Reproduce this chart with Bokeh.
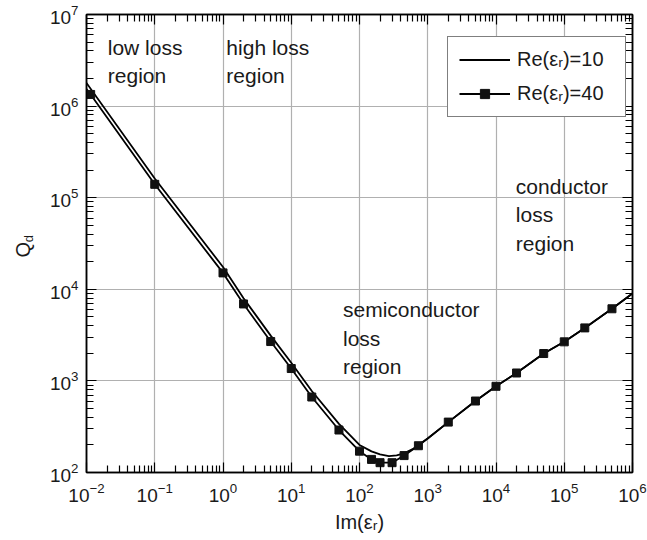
import math
from bokeh.plotting import figure
from bokeh.layouts import row
from bokeh.models import (FixedTicker, LogAxis, Label, Legend, LegendItem,
                          CustomJSTickFormatter)
from bokeh.core.properties import value
from bokeh.embed import file_html
from bokeh.resources import INLINE

FONT = "Liberation Sans"

# ---- data ----
# Re(eps_r)=10 : plain line
im_re10 = [0.01, 0.1, 1, 2, 5, 10, 20, 50, 100, 150, 200, 270, 350, 450, 600,
           800, 1000, 2000, 5000, 1e4, 2e4, 5e4, 1e5, 2e5, 5e5, 1e6]
q_re10 = [1.79e6, 1.62e5, 1.75e4, 8000, 3120, 1580, 775, 340, 200, 170, 158, 151,
          154, 162, 180, 210, 235, 355, 603, 873, 1220, 1990, 2670, 3790, 6130, 9000]

# Re(eps_r)=40 : line with square markers
im_re40 = [0.0115, 0.1, 1, 2, 5, 10, 20, 50, 100, 150, 200, 300, 450, 730,
           2000, 5000, 1e4, 2e4, 5e4, 1e5, 2e5, 5e5]
q_re40 = [1.34e6, 1.4e5, 1.51e4, 6920, 2690, 1365, 667, 291, 171, 139, 128, 128,
          153, 196, 355, 603, 873, 1220, 1990, 2670, 3790, 6130]
# line end points (no markers there)
im_re40_start, q_re40_start = 0.01, 1.54e6
im_re40_end, q_re40_end = 1e6, 9000

x_major = [1e-2, 1e-1, 1e0, 1e1, 1e2, 1e3, 1e4, 1e5, 1e6]
y_major = [1e2, 1e3, 1e4, 1e5, 1e6, 1e7]

legend_labels = ["Re(\u03b5\u1d63)=10", "Re(\u03b5\u1d63)=40"]
x_title = "Im(\u03b5\u1d63)"
y_title_main, y_title_sub = "Q", "d"

TITLE_W = 36  # width of the strip holding the rotated y title
FRAME_TOP, FRAME_BOTTOM = 14.3, 472.5  # frame edges shared by the row layout

# ---- main figure ----
p = figure(width=647 - TITLE_W, height=540, x_axis_type="log", y_axis_type="log",
           x_range=(1e-2, 1e6), y_range=(1e2, 1e7),
           output_backend="svg", toolbar_location=None,
           min_border_left=86 - TITLE_W, min_border_right=15, min_border_top=14,
           min_border_bottom=68)
p.background_fill_color = "white"
p.border_fill_color = "white"
p.outline_line_color = "black"
p.outline_line_width = 1.5

x_minor = [m * 10.0 ** k for k in range(-2, 6) for m in range(2, 10)]
y_minor = [m * 10.0 ** k for k in range(2, 7) for m in range(2, 10)]
xt = FixedTicker(ticks=x_major, minor_ticks=x_minor)
yt = FixedTicker(ticks=y_major, minor_ticks=y_minor)


def style_axis(ax, ticker):
    ax.ticker = ticker
    ax.axis_line_color = "black"
    ax.axis_line_width = 1.5
    ax.major_tick_in = 10
    ax.major_tick_out = 0
    ax.minor_tick_in = 7
    ax.minor_tick_out = 0
    ax.major_tick_line_color = "black"
    ax.minor_tick_line_color = "black"
    ax.major_tick_line_width = 1.2
    ax.minor_tick_line_width = 1.2
    ax.major_label_text_font = FONT
    ax.major_label_text_font_size = "19px"
    ax.major_label_text_color = "#1a1a1a"


for ax in p.xaxis:
    style_axis(ax, xt)
    ax.major_label_standoff = 10
    ax.axis_label = x_title
    ax.axis_label_text_font = FONT
    ax.axis_label_text_font_size = "20px"
    ax.axis_label_text_font_style = "normal"
    ax.axis_label_text_color = "#1a1a1a"
    ax.axis_label_standoff = 6
for ax in p.yaxis:
    style_axis(ax, yt)
    ax.major_label_standoff = 8

blank = CustomJSTickFormatter(code="return ''")
top = LogAxis(formatter=blank, major_label_standoff=0)
style_axis(top, xt)
right = LogAxis(formatter=blank, major_label_standoff=0)
style_axis(right, yt)
top.major_label_text_font_size = "0px"
right.major_label_text_font_size = "0px"
p.add_layout(top, "above")
p.add_layout(right, "right")

p.xgrid.ticker = xt
p.ygrid.ticker = yt
for g in (p.xgrid, p.ygrid):
    g.grid_line_color = "#b0b0b0"
    g.grid_line_width = 1.2

# ---- series ----
l10 = p.line(im_re10, q_re10, line_color="black", line_width=1.8)
l40 = p.line([im_re40_start] + im_re40 + [im_re40_end],
             [q_re40_start] + q_re40 + [q_re40_end],
             line_color="black", line_width=1.8)
s40 = p.scatter(im_re40, q_re40, marker="square", size=8,
                fill_color="#111111", line_color="#111111")

legend = Legend(items=[LegendItem(label=legend_labels[0], renderers=[l10]),
                       LegendItem(label=legend_labels[1], renderers=[l40, s40])],
                location=(361, 355))
legend.label_text_font = FONT
legend.label_text_font_size = "20px"
legend.label_text_color = "#1a1a1a"
legend.glyph_width = 51
legend.glyph_height = 23
legend.label_standoff = 7
legend.label_width = 97
legend.spacing = 11
legend.padding = 11
legend.border_line_color = "black"
legend.border_line_width = 1.5
legend.background_fill_color = "white"
legend.background_fill_alpha = 1
p.add_layout(legend, "center")

# ---- region annotations ----
notes = [
    ("low loss\nregion", 0.0205, 5.8e6),
    ("high loss\nregion", 1.12, 5.8e6),
    ("semiconductor\nloss\nregion", 57.3, 7940),
    ("conductor\nloss\nregion", 1.95e4, 1.75e5),
]
for txt, xx, yy in notes:
    p.add_layout(Label(x=xx, y=yy, text=txt, text_font=FONT, text_font_size="21px",
                       text_baseline="top", text_align="left",
                       text_line_height=1.22, text_color="#1a1a1a"))

# ---- y axis title strip: Q with subscript d ----
# strip y coordinate = 540 - (pixel row from the top of the page)
t = figure(width=TITLE_W, height=540, x_range=(0, TITLE_W),
           y_range=(540 - FRAME_BOTTOM, 540 - FRAME_TOP),
           output_backend="svg", toolbar_location=None, min_border=0)
t.axis.visible = False
t.grid.visible = False
t.outline_line_color = None
t.background_fill_color = "white"
t.border_fill_color = "white"
t.text(x=[22.5], y=[540 - 249.5], text=[y_title_main], angle=math.pi / 2,
       text_font=value(FONT), text_font_size="20px", text_align="center",
       text_baseline="middle", text_color="#1a1a1a")
t.text(x=[28.0], y=[540 - 238.5], text=[y_title_sub], angle=math.pi / 2,
       text_font=value(FONT), text_font_size="13px", text_align="center",
       text_baseline="middle", text_color="#1a1a1a")

layout = row(t, p, spacing=0)
open("out.html", "w").write(file_html(layout, INLINE))
